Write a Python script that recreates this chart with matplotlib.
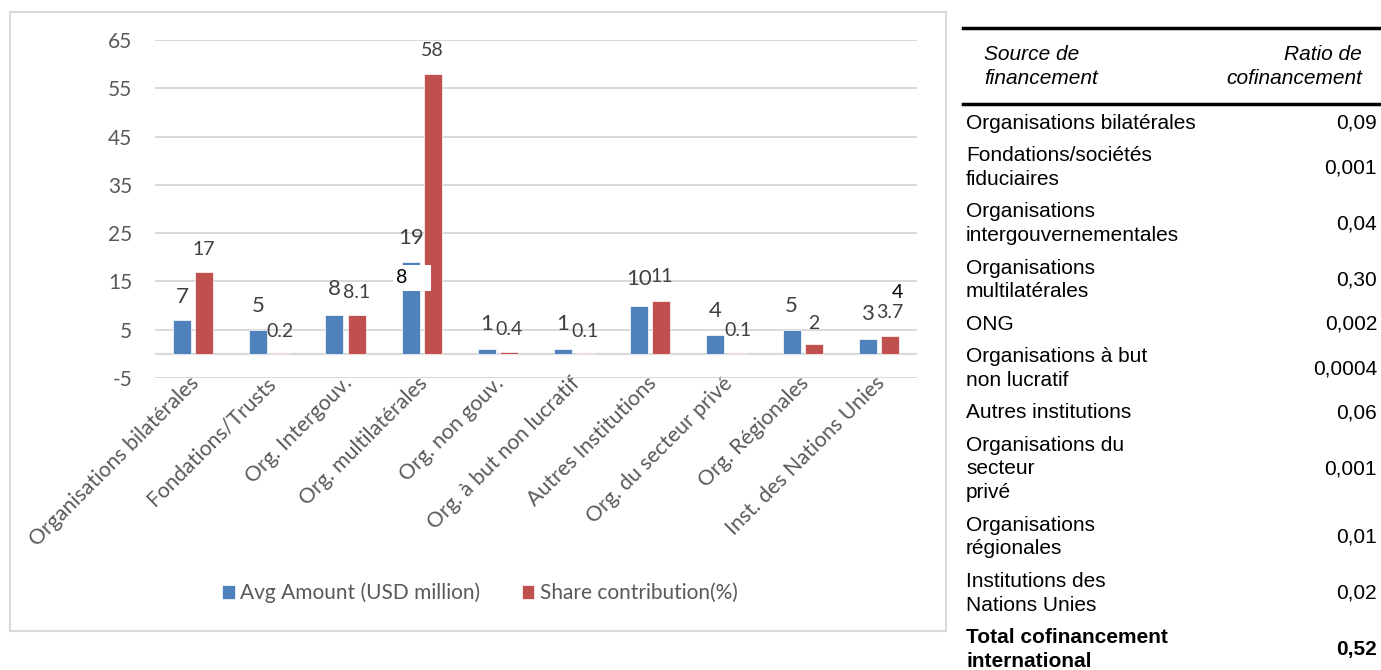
import matplotlib
matplotlib.use("Agg")
import matplotlib.pyplot as plt
from matplotlib.patches import Rectangle
import numpy as np

plt.rcParams["axes.unicode_minus"] = False

W, H = 1381, 670

# --- chart data ---
categories = [
    "Organisations bilatérales", "Fondations/Trusts", "Org. Intergouv.",
    "Org. multilatérales", "Org. non gouv.", "Org. à but non lucratif",
    "Autres Institutions", "Org. du secteur privé", "Org. Régionales",
    "Inst. des Nations Unies",
]
avg_amount = [7, 5, 8, 19, 1, 1, 10, 4, 5, 3]
share_contribution = [17, 0.2, 8.1, 58, 0.4, 0.1, 11, 0.1, 2, 3.7]
avg_labels = ["7", "5", "8", "19", "1", "1", "10", "4", "5", "3"]
share_labels = ["17", "0.2", "8.1", "58", "0.4", "0.1", "11", "0.1", "2", "3.7"]

# where each data label sits (y, in axis units)
avg_label_y = [11.7, 10.0, 13.5, 23.9, 6.1, 6.1, 15.5, 8.9, 10.0, 8.2]
share_label_y = [21.6, 4.7, 12.8, 62.8, 5.1, 4.7, 16.0, 4.9, 6.3, 8.6]

yticks = [-5, 5, 15, 25, 35, 45, 55, 65]

# --- table data ---
table_header = ("Source de\nfinancement", "Ratio de\ncofinancement")
table_sources = [
    "Organisations bilatérales",
    "Fondations/sociétés\nfiduciaires",
    "Organisations\nintergouvernementales",
    "Organisations\nmultilatérales",
    "ONG",
    "Organisations à but\nnon lucratif",
    "Autres institutions",
    "Organisations du\nsecteur\nprivé",
    "Organisations\nrégionales",
    "Institutions des\nNations Unies",
]
table_ratios = ["0,09", "0,001", "0,04", "0,30", "0,002", "0,0004", "0,06",
                "0,001", "0,01", "0,02"]
table_total = ("Total cofinancement\ninternational", "0,52")

BLUE = "#4F81BD"
RED = "#C0504D"
GRID = "#D9D9D9"
TICK = "#595959"
LABEL = "#404040"
CHART_FONT = ["Lato", "DejaVu Sans"]
TABLE_FONT = ["Liberation Sans", "DejaVu Sans"]


def fx(x):
    return x / W


def fy(y):
    return 1 - y / H


fig = plt.figure(figsize=(W / 100, H / 100), dpi=100)

# chart frame
fig.patches.append(Rectangle((fx(10), fy(631)), fx(936), (631 - 12) / H,
                             transform=fig.transFigure, fill=False,
                             edgecolor=GRID, linewidth=1.5))

ax = fig.add_axes([fx(155), fy(378), fx(917 - 155), (378 - 40) / H])
x = np.arange(len(categories))
bw = 0.235
off = 0.145
ax.bar(x - off, avg_amount, bw, color=BLUE, edgecolor="white", linewidth=0.5,
       label="Avg Amount (USD million)", zorder=3)
ax.bar(x + off, share_contribution, bw, color=RED, edgecolor="white", linewidth=0.5,
       label="Share contribution(%)", zorder=3)

ax.set_xlim(-0.5, len(categories) - 0.5)
ax.set_ylim(-5, 65)
ax.set_yticks(yticks)
ax.yaxis.grid(True, color=GRID, linewidth=1.4, zorder=0)
ax.axhline(0, color=GRID, linewidth=1.6, zorder=2)
for s in ax.spines.values():
    s.set_visible(False)
ax.tick_params(axis="y", length=0, pad=16.5, labelsize=15, labelcolor=TICK)
ax.tick_params(axis="x", length=0, pad=1.5)
for lbl in ax.get_yticklabels():
    lbl.set_family(CHART_FONT)
ax.set_xticks(x + 0.04)
ax.set_xticklabels(categories, rotation=45, ha="right", va="center",
                   rotation_mode="anchor", fontsize=15.3, color=TICK,
                   family=CHART_FONT)

for i in range(len(categories)):
    ax.text(x[i] - off, avg_label_y[i], avg_labels[i], ha="center", va="center",
            fontsize=16, color=LABEL, family=CHART_FONT, zorder=5)
    ax.text(x[i] + off, share_label_y[i], share_labels[i], ha="center", va="center",
            fontsize=14, color=LABEL, family=CHART_FONT, zorder=5)

# stray text box sitting over the multilateral bars
ax.add_patch(Rectangle((2.623, 13.1), 0.497, 5.2, facecolor="white",
                       edgecolor="none", zorder=4))
ax.text(2.66, 15.8, "8", ha="left", va="center", fontsize=14, color="black",
        family=CHART_FONT, zorder=6)
ax.text(9.24, 12.7, "4", ha="center", va="center", fontsize=14, color="black",
        family=CHART_FONT, zorder=5)

leg = fig.legend(loc="center", bbox_to_anchor=(fx(480), fy(593)), ncol=2,
                 frameon=False, handlelength=0.6, handleheight=0.6,
                 handletextpad=0.25, columnspacing=2.0,
                 prop={"family": CHART_FONT, "size": 15})
for t in leg.get_texts():
    t.set_color(TICK)

# --- table on the right ---
L = 23.8
P = 8.6
left_x = 966
right_x = 1377

fig.add_artist(plt.Line2D([fx(963), fx(1381)], [fy(28), fy(28)], color="black",
                          linewidth=2.5, transform=fig.transFigure))
fig.add_artist(plt.Line2D([fx(963), fx(1381)], [fy(104), fy(104)], color="black",
                          linewidth=2.5, transform=fig.transFigure))

for k, line in enumerate(table_header[0].split("\n")):
    fig.text(fx(984), fy(54 + k * 24), line, ha="left", va="center", fontsize=15,
             style="italic", family=TABLE_FONT)
for k, line in enumerate(table_header[1].split("\n")):
    fig.text(fx(1362), fy(54 + k * 24), line, ha="right", va="center", fontsize=15,
             style="italic", family=TABLE_FONT)

rows = list(zip(table_sources, table_ratios)) + [table_total]
top = 107
for r, (name, val) in enumerate(rows):
    lines = name.split("\n")
    h = len(lines) * L + P
    centre = top + h / 2
    weight = "bold" if r == len(rows) - 1 else "normal"
    for k, line in enumerate(lines):
        yy = centre + (k - (len(lines) - 1) / 2) * L
        fig.text(fx(left_x), fy(yy), line, ha="left", va="center", fontsize=15,
                 weight=weight, family=TABLE_FONT)
    fig.text(fx(right_x), fy(centre), val, ha="right", va="center", fontsize=15,
             weight=weight, family=TABLE_FONT)
    top += h

fig.savefig("out.png", dpi=100)
